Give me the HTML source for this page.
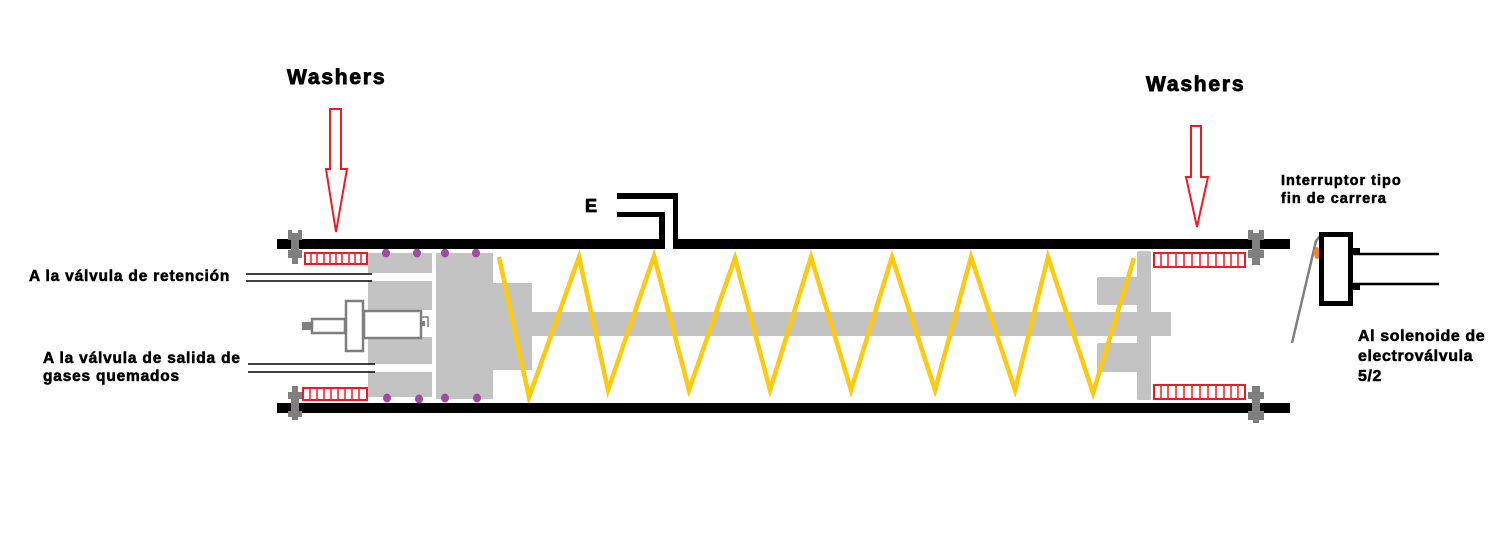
<!DOCTYPE html>
<html>
<head>
<meta charset="utf-8">
<style>
html,body{margin:0;padding:0;background:#fff;}
svg{display:block;}
text{font-family:"Liberation Sans",Arial,sans-serif;font-weight:bold;fill:#000;stroke:#000;stroke-width:0.55;}
</style>
</head>
<body>
<svg width="1492" height="547" viewBox="0 0 1492 547" xmlns="http://www.w3.org/2000/svg">
<rect width="1492" height="547" fill="#fff"/>

<!-- Labels -->
<text x="287" y="84" font-size="21" letter-spacing="1.8" style="stroke-width:0.9">Washers</text>
<text x="1146" y="91" font-size="21" letter-spacing="1.8" style="stroke-width:0.9">Washers</text>
<text x="585" y="212" font-size="18" style="stroke-width:0.8">E</text>
<text x="1281" y="185" font-size="14.5" letter-spacing="1">Interruptor tipo</text>
<text x="1281" y="203" font-size="14.5" letter-spacing="1">fin de carrera</text>
<text x="1358" y="341" font-size="16" letter-spacing="0.6">Al solenoide de</text>
<text x="1358" y="361" font-size="16" letter-spacing="0.6">electroválvula</text>
<text x="1358" y="381" font-size="16" letter-spacing="0.6">5/2</text>
<text x="29" y="281" font-size="15.5" letter-spacing="0.8">A la válvula de retención</text>
<text x="43" y="363" font-size="15.5" letter-spacing="0.8">A la válvula de salida de</text>
<text x="43" y="381" font-size="15.5" letter-spacing="0.8">gases quemados</text>

<!-- Red arrows -->
<polygon points="330,109 341,109 341,169 347,169 336,232 326,169 330,169" fill="#fff" stroke="#ED1C24" stroke-width="2"/>
<polygon points="1191,126 1201,126 1201,177 1208,177 1197,227 1186,177 1191,177" fill="#fff" stroke="#ED1C24" stroke-width="2"/>

<!-- Gray internal parts -->
<g fill="#C3C3C3">
  <rect x="368" y="253" width="64" height="20"/>
  <rect x="368" y="281" width="64" height="29"/>
  <rect x="368" y="337" width="64" height="27"/>
  <rect x="368" y="372" width="64" height="25"/>
  <rect x="436" y="253" width="57" height="146"/>
  <rect x="493" y="283" width="39" height="87"/>
  <rect x="532" y="312" width="639" height="24"/>
  <rect x="1137" y="251" width="14" height="149" rx="2"/>
  <rect x="1097" y="277" width="54" height="28" rx="2"/>
  <rect x="1097" y="343" width="54" height="29" rx="2"/>
</g>

<!-- Left valve -->
<rect x="302" y="322" width="9" height="8" fill="#7F7F7F"/>
<rect x="312" y="319" width="33" height="14" fill="#fff" stroke="#7F7F7F" stroke-width="2.5"/>
<rect x="346" y="301" width="17" height="50" fill="#fff" stroke="#7F7F7F" stroke-width="2.5"/>
<rect x="364" y="311" width="57" height="27" fill="#fff" stroke="#7F7F7F" stroke-width="2.5"/>
<rect x="421" y="321" width="4" height="5" fill="#7F7F7F"/>
<polyline points="421,317 428,317 428,327" fill="none" stroke="#7F7F7F" stroke-width="1.5"/>

<!-- Purple seals -->
<g fill="#A349A4">
  <ellipse cx="386" cy="253" rx="4" ry="4.5"/>
  <ellipse cx="417" cy="253" rx="4" ry="4.5"/>
  <ellipse cx="445" cy="253" rx="4" ry="4.5"/>
  <ellipse cx="476" cy="253" rx="4" ry="4.5"/>
  <ellipse cx="387" cy="398" rx="4" ry="4.5"/>
  <ellipse cx="419" cy="399" rx="4" ry="4.5"/>
  <ellipse cx="445" cy="398" rx="4" ry="4.5"/>
  <ellipse cx="477" cy="398" rx="4" ry="4.5"/>
</g>

<!-- Spring -->
<polyline points="499,257 529,397 579,257 608,390 654,256 689,390 735,258 770,390 811,257 851,390 892,257 935,390 971,257 1015,390 1048,257 1093,393 1134,258" fill="none" stroke="#FFC90E" stroke-width="4.5" stroke-linejoin="miter"/>

<!-- Tubes -->
<rect x="277" y="239" width="388" height="10" fill="#000"/>
<rect x="673" y="239" width="617" height="10" fill="#000"/>
<rect x="277" y="403" width="1013" height="10" fill="#000"/>

<!-- E inlet -->
<rect x="617" y="212" width="48" height="5" fill="#000"/>
<rect x="659" y="212" width="6" height="30" fill="#000"/>
<rect x="617" y="193" width="61" height="6" fill="#000"/>
<rect x="673" y="193" width="5" height="49" fill="#000"/>

<!-- Left connection lines -->
<g stroke="#000" stroke-width="1.5">
  <line x1="246" y1="274" x2="372" y2="274"/>
  <line x1="246" y1="281" x2="372" y2="281"/>
  <line x1="248" y1="364" x2="375" y2="364"/>
  <line x1="248" y1="372" x2="375" y2="372"/>
</g>

<!-- Red washers -->
<g fill="#fff" stroke="#ED1C24" stroke-width="2">
  <rect x="305" y="253" width="62" height="11"/>
  <rect x="303" y="388" width="64" height="12"/>
  <rect x="1154" y="253" width="91" height="14"/>
  <rect x="1154" y="385" width="91" height="14"/>
</g>
<g stroke="#ED1C24" stroke-width="1.5">
  <line x1="311" y1="253" x2="311" y2="264"/><line x1="317" y1="253" x2="317" y2="264"/>
  <line x1="324" y1="253" x2="324" y2="264"/><line x1="330" y1="253" x2="330" y2="264"/>
  <line x1="336" y1="253" x2="336" y2="264"/><line x1="342" y1="253" x2="342" y2="264"/>
  <line x1="349" y1="253" x2="349" y2="264"/><line x1="355" y1="253" x2="355" y2="264"/>
  <line x1="361" y1="253" x2="361" y2="264"/>
  <line x1="310" y1="388" x2="310" y2="400"/><line x1="317" y1="388" x2="317" y2="400"/>
  <line x1="324" y1="388" x2="324" y2="400"/><line x1="331" y1="388" x2="331" y2="400"/>
  <line x1="338" y1="388" x2="338" y2="400"/><line x1="345" y1="388" x2="345" y2="400"/>
  <line x1="352" y1="388" x2="352" y2="400"/><line x1="359" y1="388" x2="359" y2="400"/>
  <line x1="1161" y1="253" x2="1161" y2="267"/><line x1="1168" y1="253" x2="1168" y2="267"/>
  <line x1="1176" y1="253" x2="1176" y2="267"/><line x1="1184" y1="253" x2="1184" y2="267"/>
  <line x1="1192" y1="253" x2="1192" y2="267"/><line x1="1200" y1="253" x2="1200" y2="267"/>
  <line x1="1208" y1="253" x2="1208" y2="267"/><line x1="1216" y1="253" x2="1216" y2="267"/>
  <line x1="1224" y1="253" x2="1224" y2="267"/><line x1="1231" y1="253" x2="1231" y2="267"/>
  <line x1="1238" y1="253" x2="1238" y2="267"/>
  <line x1="1161" y1="385" x2="1161" y2="399"/><line x1="1168" y1="385" x2="1168" y2="399"/>
  <line x1="1176" y1="385" x2="1176" y2="399"/><line x1="1184" y1="385" x2="1184" y2="399"/>
  <line x1="1192" y1="385" x2="1192" y2="399"/><line x1="1200" y1="385" x2="1200" y2="399"/>
  <line x1="1208" y1="385" x2="1208" y2="399"/><line x1="1216" y1="385" x2="1216" y2="399"/>
  <line x1="1224" y1="385" x2="1224" y2="399"/><line x1="1231" y1="385" x2="1231" y2="399"/>
  <line x1="1238" y1="385" x2="1238" y2="399"/>
</g>

<!-- Nuts -->
<g fill="#7F7F7F">
  <g transform="translate(295,230)">
    <path d="M-7,0 L-3,0 L-3,3 L3,3 L3,0 L7,0 L7,10 L4,10 L4,20 L7,20 L7,28 L3,28 L3,34 L-3,34 L-3,28 L-7,28 L-7,20 L-4,20 L-4,10 L-7,10 Z"/>
  </g>
  <g transform="translate(295,386)">
    <path d="M-3,0 L3,0 L3,6 L7,6 L7,13 L4,13 L4,25 L7,25 L7,31 L3,31 L3,34 L-3,34 L-3,31 L-7,31 L-7,25 L-4,25 L-4,13 L-7,13 L-7,6 L-3,6 Z"/>
  </g>
  <g transform="translate(1256,230)">
    <path d="M-8,0 L-3,0 L-3,3 L3,3 L3,0 L8,0 L8,10 L4,10 L4,20 L8,20 L8,28 L4,28 L4,35 L-4,35 L-4,28 L-8,28 L-8,20 L-4,20 L-4,10 L-8,10 Z"/>
  </g>
  <g transform="translate(1256,386)">
    <path d="M-4,0 L4,0 L4,6 L8,6 L8,13 L4,13 L4,25 L8,25 L8,34 L3,34 L3,37 L-3,37 L-3,34 L-8,34 L-8,25 L-4,25 L-4,13 L-8,13 L-8,6 L-4,6 Z"/>
  </g>
</g>

<!-- Limit switch -->
<polyline points="1292,343 1316,241 1320,236" fill="none" stroke="#7F7F7F" stroke-width="2.5"/>
<ellipse cx="1317" cy="253" rx="3" ry="6" fill="#FF7F27"/>
<rect x="1321.5" y="234.5" width="29" height="69" fill="#fff" stroke="#000" stroke-width="5"/>
<rect x="1353" y="248" width="7" height="7" fill="#000"/>
<rect x="1353" y="283" width="7" height="7" fill="#000"/>
<line x1="1353" y1="254" x2="1439" y2="254" stroke="#000" stroke-width="2.5"/>
<line x1="1353" y1="284" x2="1439" y2="284" stroke="#000" stroke-width="2.5"/>
</svg>
</body>
</html>
